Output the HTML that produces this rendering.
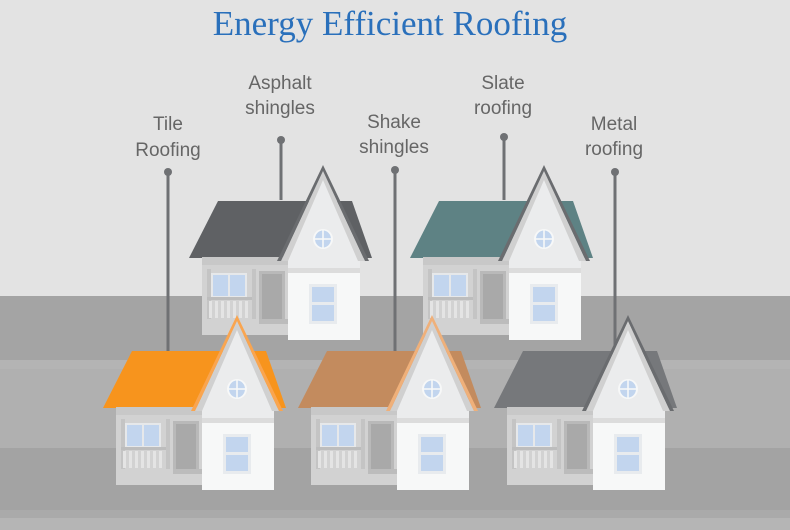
<!DOCTYPE html>
<html><head><meta charset="utf-8"><style>
html,body{margin:0;padding:0;background:#e3e3e3}
svg{display:block}
text{font-family:"Liberation Sans",sans-serif}
</style></head><body>
<svg width="790" height="530" viewBox="0 0 790 530" xmlns="http://www.w3.org/2000/svg">
<defs>
<g id="body">
  <rect x="-121" y="84" width="90" height="78" fill="#d2d2d2"/>
  <rect x="-121" y="84" width="90" height="8" fill="#c8c8c8"/>
  <rect x="-116" y="96" width="4" height="50" fill="#c4c4c4"/>
  <rect x="-71" y="96" width="4" height="50" fill="#c4c4c4"/>
  <rect x="-112" y="100" width="36" height="25" fill="#e6e8ea"/>
  <rect x="-110" y="102" width="15" height="21" fill="#c2d5ee"/>
  <rect x="-93" y="102" width="15" height="21" fill="#c2d5ee"/>
  <rect x="-116" y="124" width="45" height="3" fill="#bdbdbd"/>
  <g fill="#e4e4e4">
    <rect x="-114" y="128" width="3" height="17"/><rect x="-108" y="128" width="3" height="17"/>
    <rect x="-102" y="128" width="3" height="17"/><rect x="-96" y="128" width="3" height="17"/>
    <rect x="-90" y="128" width="3" height="17"/><rect x="-84" y="128" width="3" height="17"/>
    <rect x="-78" y="128" width="3" height="17"/>
  </g>
  <rect x="-64" y="98" width="26" height="48" fill="#b9b9b9"/>
  <rect x="-61" y="101" width="20" height="45" fill="#a9a9a9"/>
  <rect x="-64" y="146" width="30" height="5" fill="#bcbcbc"/>
  <polygon points="0,5 -38,88 38,88" fill="#ebeced"/>
  <rect x="-35" y="88" width="72" height="9" fill="#ebeced"/>
  <rect x="-35" y="95" width="72" height="5" fill="#dcdcdc"/>
  <rect x="-35" y="100" width="72" height="67" fill="#f7f8f8"/>
  <circle cx="0" cy="66" r="10" fill="#f7f8f8"/>
  <ellipse cx="0" cy="66" rx="8" ry="8.5" fill="#c2d5ee"/>
  <rect x="-0.8" y="57" width="1.6" height="18" fill="#f7f8f8"/>
  <rect x="-8" y="65.2" width="16" height="1.6" fill="#f7f8f8"/>
  <rect x="-14" y="111" width="28" height="40" fill="#e8ebee"/>
  <rect x="-11" y="114" width="22" height="15" fill="#c2d5ee"/>
  <rect x="-11" y="132" width="22" height="16" fill="#c2d5ee"/>
</g>
</defs>

<rect x="0" y="0" width="790" height="296" fill="#e3e3e3"/>
<rect x="0" y="296" width="790" height="64" fill="#a4a4a4"/>
<rect x="0" y="360" width="790" height="9" fill="#b4b4b4"/>
<rect x="0" y="369" width="790" height="79" fill="#b0b0b0"/>
<rect x="0" y="448" width="790" height="62" fill="#a3a3a3"/>
<rect x="0" y="510" width="790" height="8" fill="#aaaaaa"/>
<rect x="0" y="518" width="790" height="12" fill="#b5b5b5"/>

<text x="390" y="35" text-anchor="middle" style="font-family:'Liberation Serif',serif" font-size="35" fill="#2a70bb">Energy Efficient Roofing</text>

<g font-size="19" fill="#666" text-anchor="middle">
<text x="168" y="130">Tile</text><text x="168" y="156">Roofing</text>
<text x="280" y="89">Asphalt</text><text x="280" y="114">shingles</text>
<text x="394" y="128">Shake</text><text x="394" y="153">shingles</text>
<text x="503" y="89">Slate</text><text x="503" y="114">roofing</text>
<text x="614" y="130">Metal</text><text x="614" y="155">roofing</text>
</g>

<g stroke="#6f7174" stroke-width="3" fill="#6f7174">
<line x1="168" y1="172" x2="168" y2="352"/><circle cx="168" cy="172" r="4" stroke="none"/>
<line x1="281" y1="140" x2="281" y2="200"/><circle cx="281" cy="140" r="4" stroke="none"/>
<line x1="395" y1="170" x2="395" y2="352"/><circle cx="395" cy="170" r="4" stroke="none"/>
<line x1="504" y1="137" x2="504" y2="200"/><circle cx="504" cy="137" r="4" stroke="none"/>
<line x1="615" y1="172" x2="615" y2="352"/><circle cx="615" cy="172" r="4" stroke="none"/>
</g>

<g transform="translate(323,173)">
  <polygon points="-105,28 29,28 49,85 -134,85" fill="#5f6164"/>
  <use href="#body"/>
  <polygon points="0,-2 -42,88 -35,88 0,7 35,88 42,88" fill="#d0d0d0"/>
  <polygon points="0,-2 -42,88 -46,88 0,-8 46,88 42,88" fill="#6a6c6f"/>
</g>
<g transform="translate(544,173)">
  <polygon points="-105,28 29,28 49,85 -134,85" fill="#5e8284"/>
  <use href="#body"/>
  <polygon points="0,-2 -42,88 -35,88 0,7 35,88 42,88" fill="#d0d0d0"/>
  <polygon points="0,-2 -42,88 -46,88 0,-8 46,88 42,88" fill="#6a6c6f"/>
</g>
<g transform="translate(237,323)">
  <polygon points="-105,28 29,28 49,85 -134,85" fill="#f7941d"/>
  <use href="#body"/>
  <polygon points="0,-2 -42,88 -35,88 0,7 35,88 42,88" fill="#d0d0d0"/>
  <polygon points="0,-2 -42,88 -46,88 0,-8 46,88 42,88" fill="#f9a550"/>
</g>
<g transform="translate(432,323)">
  <polygon points="-105,28 29,28 49,85 -134,85" fill="#c38b5e"/>
  <use href="#body"/>
  <polygon points="0,-2 -42,88 -35,88 0,7 35,88 42,88" fill="#d0d0d0"/>
  <polygon points="0,-2 -42,88 -46,88 0,-8 46,88 42,88" fill="#efb07a"/>
</g>
<g transform="translate(628,323)">
  <polygon points="-105,28 29,28 49,85 -134,85" fill="#76787b"/>
  <use href="#body"/>
  <polygon points="0,-2 -42,88 -35,88 0,7 35,88 42,88" fill="#d0d0d0"/>
  <polygon points="0,-2 -42,88 -46,88 0,-8 46,88 42,88" fill="#6a6c6f"/>
</g>
</svg>
</body></html>
